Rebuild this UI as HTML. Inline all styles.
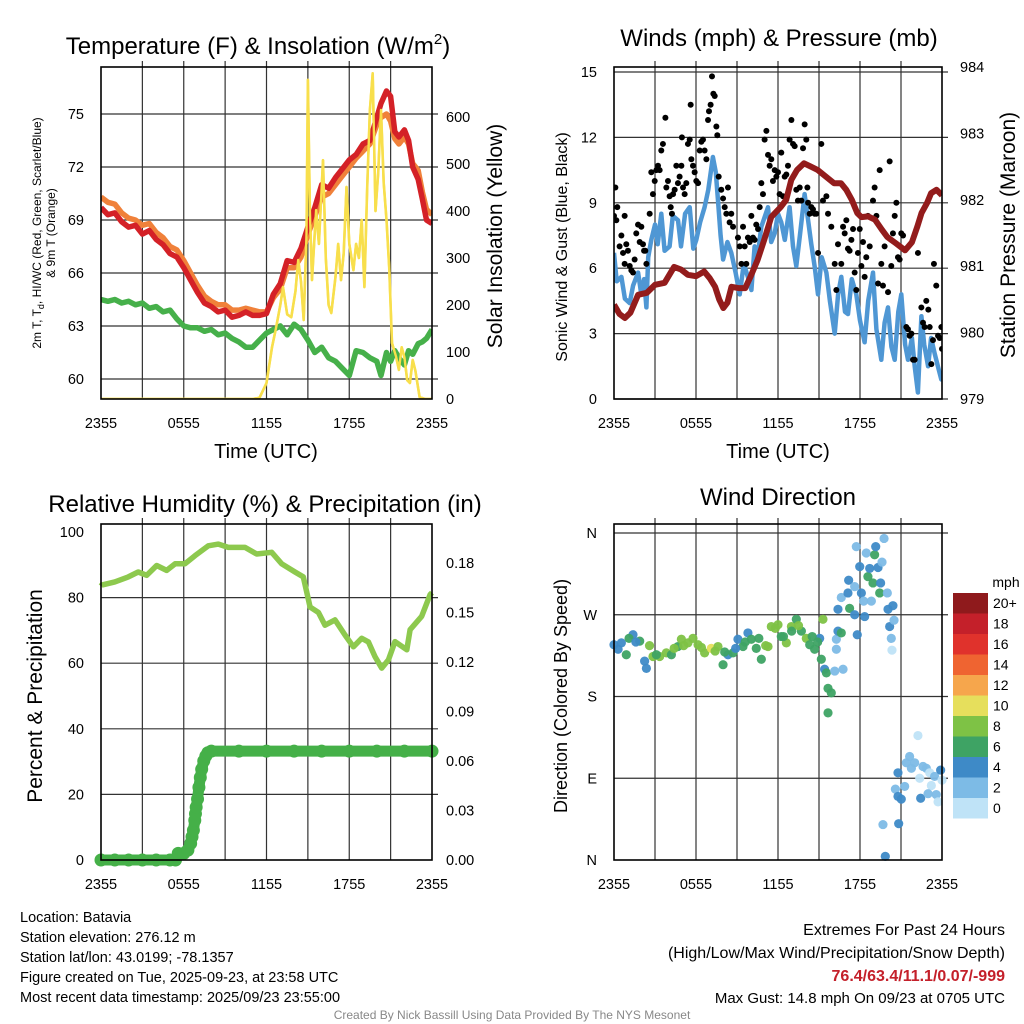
<!DOCTYPE html>
<html><head><meta charset="utf-8"><style>
body{margin:0;background:#fff;}
svg{display:block;font-family:"Liberation Sans",Arial,sans-serif;}
</style></head><body>
<svg id="root" width="1024" height="1024" viewBox="0 0 1024 1024" xmlns="http://www.w3.org/2000/svg"></svg>
<script>
// ---------- DATA ----------
const tempH=[0,0.5,1,1.5,2,2.5,3,3.5,4,4.5,5,5.5,6,6.5,7,7.5,8,8.5,9,9.5,10,10.5,11,11.5,12,12.5,13,13.5,14,14.5,15,15.5,16,16.5,17,17.5,18,18.5,19,19.5,20,20.3,20.7,21,21.3,21.6,22,22.3,22.6,23,23.3,23.6,24];
const tempRed=[69.7,69.3,69.4,68.9,68.6,68.7,68.2,68.4,67.9,67.6,67.1,66.9,66.3,65.6,64.9,64.3,64.1,63.8,63.9,63.5,63.6,63.8,63.6,63.6,63.7,64.8,65.4,66.7,66.6,67.4,68.6,69.7,71.0,70.8,71.4,71.9,72.4,72.7,73.3,73.5,74.8,75.6,76.3,76.0,74.0,73.7,74.1,73.5,72.0,71.3,70.2,69.0,68.8];
const temp9m=[70.3,70.0,69.9,69.4,69.1,69.0,68.7,68.8,68.3,68.0,67.5,67.3,66.7,66.0,65.3,64.7,64.4,64.2,64.2,63.9,63.9,64.0,63.9,63.8,63.8,64.6,65.1,66.3,66.3,66.9,68.2,69.2,70.3,70.5,71.0,71.5,72.0,72.5,72.9,73.3,74.4,74.8,75.0,74.6,73.6,73.3,73.7,73.3,72.2,71.8,70.6,69.6,69.3];
const dewPt=[64.5,64.4,64.5,64.3,64.4,64.2,64.3,64.0,64.1,63.8,63.9,63.4,63.0,62.9,62.9,62.7,62.8,62.5,62.6,62.3,62.1,61.8,61.8,62.2,62.6,62.8,63.0,62.5,63.1,62.8,62.2,61.5,61.8,61.2,61.0,60.6,60.2,61.6,61.5,61.2,61.0,60.2,61.5,61.0,61.6,61.2,60.8,61.6,61.4,62.0,62.1,62.3,62.8];
const solarH=[0,11,11.5,12,12.4,12.7,13,13.2,13.5,13.8,14.1,14.3,14.5,14.7,14.9,15.0,15.15,15.3,15.6,15.8,16.1,16.3,16.5,16.7,17.0,17.2,17.4,17.6,17.8,18.0,18.3,18.5,18.7,18.9,19.1,19.3,19.5,19.7,19.9,20.1,20.3,20.5,20.7,20.9,21.1,21.4,21.6,21.8,22.0,22.2,22.4,22.6,22.8,23.1,23.5,24];
const solarV=[0,0,3,34,110,153,200,238,180,174,230,296,250,168,350,679,400,253,402,330,508,300,200,183,260,330,253,310,451,330,274,330,300,381,238,450,615,693,400,481,615,460,381,280,119,90,62,110,89,40,34,83,60,4,0,0];

const windH=[0,0.2,0.54,0.8,1.15,1.4,1.76,2.0,2.2,2.37,2.5,2.73,3.0,3.2,3.46,3.7,4.07,4.3,4.68,4.9,5.2,5.54,5.8,6.02,6.3,6.63,6.9,7.24,7.45,7.61,7.8,7.98,8.3,8.58,8.9,9.2,9.5,9.8,10.05,10.29,10.5,10.78,11.0,11.27,11.5,11.76,12.0,12.24,12.5,12.85,13.1,13.34,13.6,13.95,14.2,14.44,14.7,14.93,15.2,15.54,15.8,16.15,16.4,16.63,16.9,17.12,17.4,17.73,18.0,18.34,18.6,18.95,19.2,19.56,19.8,20.05,20.3,20.54,20.8,21.02,21.3,21.51,21.8,22.0,22.24,22.49,22.7,22.98,23.2,23.46,23.7,23.95,24];
const windV=[6.7,5.4,5.6,4.6,4.4,5.2,5.8,4.8,5.5,4.2,6.5,7.3,8.0,7.1,8.5,6.8,7.0,8.4,8.2,7.0,8.5,8.8,6.9,7.3,8.1,8.8,9.6,11.1,10.4,9.1,7.5,6.4,7.2,6.7,5.8,4.8,6.2,5.6,5.0,7.0,6.5,7.9,8.3,8.8,7.2,7.6,8.5,8.1,7.3,8.8,7.0,6.1,7.5,9.4,8.2,7.1,6.0,4.8,6.5,5.8,4.5,3.0,4.8,5.6,4.0,3.9,5.5,4.8,3.6,2.6,4.5,5.8,3.2,1.8,3.5,4.2,2.4,1.8,4.0,4.8,2.5,1.8,2.8,1.5,0.3,3.8,2.5,1.5,2.8,2.1,1.5,0.9,1.2];
const gustH=[0,0.1,0.24,0.17,0.41,0.54,0.66,0.78,0.78,0.9,1.02,1.15,1.27,1.39,1.51,1.63,1.76,1.88,2.0,2.12,2.2,2.29,2.37,2.61,2.73,2.85,2.98,3.1,3.22,3.34,3.46,3.58,3.76,3.83,3.95,4.07,4.15,4.24,4.32,4.44,4.56,4.68,4.8,4.93,4.97,5.05,5.17,5.29,5.41,5.54,5.61,5.66,5.78,5.9,6.02,6.15,6.27,6.39,6.51,6.63,6.76,6.88,6.95,7.07,7.17,7.27,7.37,7.49,7.56,7.66,7.85,7.98,8.1,8.22,8.34,8.46,8.58,8.71,9.07,9.2,9.32,9.44,9.56,9.68,9.8,9.93,10.05,10.17,10.29,10.41,10.54,10.66,10.78,10.9,11.02,11.15,11.27,11.39,11.51,11.63,11.76,11.88,12.0,12.12,12.24,12.37,12.49,12.61,12.73,12.85,12.98,13.1,13.22,13.34,13.46,13.59,13.71,13.83,13.95,14.07,14.15,14.2,14.32,14.44,14.56,14.68,14.8,14.93,15.17,15.29,15.54,15.66,15.9,16.15,16.27,16.39,16.63,16.76,16.88,17.0,17.12,17.24,17.37,17.49,17.61,17.73,17.85,17.98,18.1,18.22,18.34,18.46,18.58,18.71,18.95,19.07,19.2,19.32,19.44,19.56,19.68,19.8,20.05,20.17,20.29,20.41,20.54,20.66,20.78,20.9,21.02,21.15,21.39,21.51,21.63,21.76,21.88,22.0,22.24,22.49,22.61,22.73,22.85,23.0,23.1,23.22,23.34,23.41,23.58,23.71,23.83,23.95,24.0];
const gustV=[8.4,9.7,8.8,8.2,7.0,7.5,6.7,8.4,6.2,7.1,6.8,6.1,5.9,5.8,6.4,7.6,8.0,7.2,7.9,7.1,6.8,6.8,6.2,8.5,10.4,9.4,10.0,10.5,10.7,10.5,11.4,11.7,12.9,9.7,10.0,9.3,8.8,8.5,9.4,9.6,10.7,9.9,10.2,10.7,12.0,9.7,9.4,9.9,11.7,11.9,13.5,11.0,10.7,10.4,10.0,9.9,11.4,11.8,11.9,11.4,11.0,12.8,13.2,13.5,14.8,14.0,13.9,12.5,12.1,10.2,9.6,9.2,8.8,8.5,9.7,8.1,8.5,7.9,7.4,7.0,6.2,7.9,7.0,6.2,7.4,7.2,8.4,7.4,7.3,8.0,7.8,8.8,9.9,9.4,11.9,12.3,11.2,10.7,11.0,10.0,10.5,10.2,10.4,9.4,11.3,9.3,10.2,10.3,10.7,11.9,12.8,11.7,11.6,9.6,9.1,9.7,9.1,11.5,12.6,11.9,9.7,9.0,8.5,8.8,8.7,8.5,8.5,6.7,11.7,9.1,9.3,8.5,7.9,6.2,5.0,7.1,6.2,7.9,7.6,8.2,6.9,6.8,7.3,7.8,5.8,5.0,6.7,7.8,6.1,7.2,5.6,6.5,8.4,7.0,9.1,9.7,8.4,5.3,10.5,6.2,5.2,7.0,4.9,10.9,6.1,7.6,8.4,9.0,6.5,6.4,7.6,7.5,3.3,3.2,2.9,3.0,1.8,1.8,6.7,4.2,3.5,3.3,4.5,4.1,3.3,1.6,2.7,6.2,5.2,2.9,2.8,3.3,2.3];
const presH=[0,0.4,0.8,1.2,1.76,2.4,3,3.7,4.4,4.9,5.4,6.0,6.6,7.0,7.4,7.7,8,8.3,8.6,9.1,9.6,10.0,10.5,11.0,11.5,12.2,12.6,12.97,13.4,13.9,14.4,14.9,15.5,16.1,16.6,17.0,17.4,17.8,18.1,18.6,19.1,19.6,20,20.6,21.3,21.8,22.2,22.5,22.9,23.2,23.6,24];
const presV=[980.42,980.28,980.22,980.3,980.57,980.6,980.72,980.75,980.99,980.95,980.87,980.85,980.92,980.82,980.69,980.5,980.37,980.45,980.69,980.67,980.67,980.85,981.09,981.4,981.74,981.89,982.0,982.3,982.45,982.55,982.5,982.45,982.35,982.25,982.25,982.15,982.0,981.8,981.74,981.75,981.7,981.55,981.44,981.35,981.24,981.36,981.6,981.8,981.95,982.1,982.15,982.07];

const rhH=[0,0.05,1.0,1.98,2.7,3.31,4.04,4.76,5.37,6.09,6.82,7.78,8.51,9.23,10.44,11.29,12.38,13.1,14.07,14.67,15.16,15.76,16.24,16.97,17.69,18.3,18.9,19.39,19.87,20.35,20.84,21.32,22.17,22.41,23.25,23.86,24];
const rhV=[83.5,83.8,84.8,86.3,87.8,86.8,89.8,88.3,90.3,90.3,92.8,95.8,96.3,95.3,95.3,93.3,93.8,90.3,87.8,86.3,77.1,75.5,71.6,73.2,68.6,65.0,67.6,66.5,62.0,58.5,61.0,66.6,64.1,70.2,74.3,80.9,81.5];
const precH=[0,1,2,3,4,5,5.4,5.6,6.0,6.3,6.5,6.6,6.7,6.8,6.85,6.9,7.0,7.1,7.2,7.3,7.45,7.6,7.75,8,10,12,14,16,18,20,22,24];
const precV=[0,0,0,0,0,0,0,0.004,0.004,0.006,0.010,0.014,0.018,0.024,0.028,0.032,0.037,0.044,0.050,0.055,0.060,0.063,0.065,0.066,0.066,0.066,0.066,0.066,0.066,0.066,0.066,0.066];

const dirH=[0.0,0.54,0.9,1.39,1.88,2.24,2.37,2.85,3.34,3.83,4.2,4.68,4.93,5.41,5.78,6.15,6.63,7.12,7.61,7.98,8.34,8.71,9.07,9.44,9.8,10.05,10.41,10.78,11.27,11.51,12.0,12.24,12.61,12.98,13.34,13.71,14.07,14.32,14.68,15.05,15.17,15.29,15.41,15.54,15.66,15.9,15.66,16.27,16.39,16.27,16.63,16.15,16.76,16.39,16.63,17.12,17.17,17.24,17.61,17.61,17.8,17.98,17.73,18.1,18.27,18.34,18.46,18.58,18.71,18.95,18.83,19.07,19.15,19.32,19.44,19.51,19.61,19.76,20.0,20.05,20.17,20.29,20.34,20.41,20.49,19.68,19.85,20.78,20.83,20.59,20.78,21.02,21.27,21.39,21.63,21.76,22.0,22.24,22.37,22.44,22.61,22.85,23.1,23.22,23.46,23.58,23.71,23.9,24.0,22.98,0.3,1.1,1.6,2.6,3.1,4.4,5.1,6.4,7.4,8.1,8.9,9.6,10.6,11.1,11.8,12.4,13.0,13.5,14.5,14.9];
const dirV=[237,239,226,248,241,219,211,224,224,228,226,235,243,239,244,237,228,233,235,215,226,228,243,235,250,243,233,221,235,257,259,246,239,257,265,252,244,237,232,244,221,265,210,206,189,184,162,243,252,232,250,208,210,276,289,294,308,277,301,270,248,323,345,294,285,268,338,312,321,305,285,336,345,322,294,305,328,354,294,276,257,244,231,280,264,39,4,96,40,78,70,67,81,107,114,101,107,137,90,68,103,101,96,82,92,72,64,99,88,73,232,244,240,236,226,233,236,234,230,229,233,240,244,236,255,246,252,258,246,240];
const dirS=[4,4,6,4,6,4,4,8,8,8,6,6,8,8,8,8,8,10,8,6,4,6,4,6,4,6,6,6,8,8,8,6,8,8,6,6,8,6,6,4,6,8,4,6,6,6,6,2,4,2,6,2,2,4,2,4,4,6,2,4,4,4,2,4,2,4,2,6,4,6,2,6,4,4,6,4,2,2,2,4,4,2,0,4,2,2,4,4,4,2,4,4,2,2,2,2,2,0,0,4,2,2,0,0,2,2,0,4,0,2,4,6,4,8,6,8,8,8,8,6,4,6,6,8,8,6,6,8,6,6];

const legendLabels=["20+","18","16","14","12","10","8","6","4","2","0"];
const legendColors=["#8f1a1c","#c4202a","#e0322c","#ef6431","#f6a64c","#e6df5c","#7ec245","#3ea364","#3e8ac7","#7dbbe6","#bfe3f7"];
const speedBins=[0,2,4,6,8,10,12,14,16,18,20];
const timeTicks=["2355","0555","1155","1755","2355"];
const tempTicks=[60,63,66,69,72,75];
const solarTicks=[0,100,200,300,400,500,600];
const windTicks=[0,3,6,9,12,15];
const presTicks=[979,980,981,982,983,984];
const rhTicks=[0,20,40,60,80,100];
const precTicks=[0,0.03,0.06,0.09,0.12,0.15,0.18];
const dirTicks=["N","E","S","W","N"];

// ---------- HELPERS ----------
const NS="http://www.w3.org/2000/svg";
const root=document.getElementById('root');
function mk(tag,attrs,parent){const e=document.createElementNS(NS,tag);for(const k in attrs)e.setAttribute(k,attrs[k]);(parent||root).appendChild(e);return e;}
function txt(s,x,y,size,anchor,parent,extra){const e=mk('text',Object.assign({x:x,y:y,'font-size':size,'text-anchor':anchor||'middle',fill:'#000'},extra||{}),parent);e.textContent=s;return e;}
function lin(a0,a1,b0,b1){return v=>b0+(v-a0)*(b1-b0)/(a1-a0);}
function pathD(xs,ys,fx,fy){return xs.map((v,i)=>(i?'L':'M')+fx(v).toFixed(1)+','+fy(ys[i]).toFixed(1)).join('');}

function panelFrame(g,x0,y0,x1,y1,vlines,hlines){
  for(const x of vlines){const l=mk('line',{x1:x,y1:y0-6,x2:x,y2:y1,stroke:'#333','stroke-width':1.2},g);
  
  }
  for(const y of hlines){const l=mk('line',{x1:x0,y1:y,x2:x1+6,y2:y,stroke:'#333','stroke-width':1.2},g);
  
  }
}
function border(g,x0,y0,x1,y1){const r=mk('rect',{x:x0,y:y0,width:x1-x0,height:y1-y0,fill:'none',stroke:'#000','stroke-width':1.6},g);

}
function timeAxis(g,x0,x1,y){const fx=lin(0,24,x0,x1);timeTicks.forEach((t,i)=>{const e=txt(t,fx(i*6),y,14.5,'middle',g);

});}

// ================= PANEL 1 =================
(function(){
const g=mk('g',{});


const X0=101,X1=432,Y0=67,Y1=399;
const fx=lin(0,24,X0,X1), fy=lin(60,75,379,114), fs=lin(0,600,399,117);
const vl=[];for(let h=3;h<24;h+=3)vl.push(fx(h));
panelFrame(g,X0,Y0,X1,Y1,vl,tempTicks.map(fy));
const cp=mk('clipPath',{id:'c1'},g);mk('rect',{x:X0,y:Y0,width:X1-X0,height:Y1-Y0},cp);
const d=mk('g',{'clip-path':'url(#c1)'},g);
const sol=mk('path',{d:pathD(solarH,solarV,fx,fs),fill:'none',stroke:'#f8df4c','stroke-width':2.6,'stroke-linejoin':'round'},d);


const dp=mk('path',{d:pathD(tempH,dewPt,fx,fy),fill:'none',stroke:'#46b04a','stroke-width':5.5,'stroke-linejoin':'round'},d);


const t9=mk('path',{d:pathD(tempH,temp9m,fx,fy),fill:'none',stroke:'#f0813a','stroke-width':5.5,'stroke-linejoin':'round'},d);


const t2=mk('path',{d:pathD(tempH,tempRed,fx,fy),fill:'none',stroke:'#d42127','stroke-width':5.5,'stroke-linejoin':'round'},d);


const sol2=mk('path',{d:pathD(solarH,solarV,fx,fs),fill:'none',stroke:'#f8df4c','stroke-width':2.4,'stroke-linejoin':'round'},d);


border(g,X0,Y0,X1,Y1);
tempTicks.forEach(v=>{const e=txt(String(v),84,fy(v)+5,14.5,'end',g);

});
solarTicks.forEach(v=>{const e=txt(String(v),446,fs(v)+5,14.5,'start',g);

});
timeAxis(g,X0,X1,428);
const t=txt('Temperature (F) & Insolation (W/m',258,54,24,'middle',g);


const ts=mk('tspan',{'font-size':15,dy:-10},t);ts.textContent='2';
const ts2=mk('tspan',{dy:10},t);ts2.textContent=')';
const xl=txt('Time (UTC)',266,458,20,'middle',g);


const yl1=txt('2m T, T',0,0,12,'middle',g,{transform:'translate(41,233) rotate(-90)'});


const sb=mk('tspan',{'font-size':9,dy:3},yl1);sb.textContent='d';
const sb2=mk('tspan',{dy:-3},yl1);sb2.textContent=', HI/WC (Red, Green, Scarlet/Blue)';
const yl2=txt('& 9m T (Orange)',0,0,12,'middle',g,{transform:'translate(55,233) rotate(-90)'});


const yr=txt('Solar Insolation (Yellow)',0,0,21,'middle',g,{transform:'translate(502,236) rotate(-90)'});


})();

// ================= PANEL 2 =================
(function(){
const g=mk('g',{});


const X0=614,X1=942,Y0=67,Y1=399;
const fx=lin(0,24,X0,X1), fy=lin(0,15,399,72), fp=lin(979,984,399,67);
const vl=[];for(let h=3;h<24;h+=3)vl.push(fx(h));
panelFrame(g,X0,Y0,X1,Y1,vl,windTicks.map(fy));
const cp=mk('clipPath',{id:'c2'},g);mk('rect',{x:X0,y:Y0,width:X1-X0,height:Y1-Y0},cp);
const d=mk('g',{'clip-path':'url(#c2)'},g);
const w=mk('path',{d:pathD(windH,windV,fx,fy),fill:'none',stroke:'#4f97d4','stroke-width':4.5,'stroke-linejoin':'round'},d);


gustH.forEach((h,i)=>{const c=mk('circle',{cx:fx(h),cy:fy(gustV[i]),r:3,fill:'#000'},d);

});
const p=mk('path',{d:pathD(presH,presV,fx,fp),fill:'none',stroke:'#931c1c','stroke-width':6,'stroke-linejoin':'round'},d);


border(g,X0,Y0,X1,Y1);
windTicks.forEach(v=>{const e=txt(String(v),597,fy(v)+5,14.5,'end',g);

});
presTicks.forEach(v=>{const e=txt(String(v),960,fp(v)+5,14.5,'start',g);

});
timeAxis(g,X0,X1,428);
const t=txt('Winds (mph) & Pressure (mb)',779,46,24,'middle',g);


const xl=txt('Time (UTC)',778,458,20,'middle',g);


const yl=txt('Sonic Wind & Gust (Blue, Black)',0,0,16,'middle',g,{transform:'translate(567,247) rotate(-90)'});


const yr=txt('Station Pressure (Maroon)',0,0,21,'middle',g,{transform:'translate(1015,235) rotate(-90)'});


})();

// ================= PANEL 3 =================
(function(){
const g=mk('g',{});


const X0=101,X1=432,Y0=524,Y1=860;
const fx=lin(0,24,X0,X1), fy=lin(0,100,860,532), fp=lin(0,0.18,860,563);
const vl=[];for(let h=3;h<24;h+=3)vl.push(fx(h));
panelFrame(g,X0,Y0,X1,Y1,vl,[20,40,60,80].map(fy));
const cp=mk('clipPath',{id:'c3'},g);mk('rect',{x:X0-8,y:Y0,width:X1-X0+16,height:Y1-Y0+8},cp);
const d=mk('g',{'clip-path':'url(#c3)'},g);
const r=mk('path',{d:pathD(rhH,rhV,fx,fy),fill:'none',stroke:'#8dc94e','stroke-width':5.5,'stroke-linejoin':'round'},d);


const pl=mk('path',{d:pathD(precH,precV,fx,fp),fill:'none',stroke:'#45b048','stroke-width':11,'stroke-linecap':'round','stroke-linejoin':'round'},d);


precH.forEach((h,i)=>{const c=mk('circle',{cx:fx(h),cy:fp(precV[i]),r:6.5,fill:'#45b048'},d);

});
border(g,X0,Y0,X1,Y1);
rhTicks.forEach(v=>{const e=txt(String(v),84,fy(v)+5,14.5,'end',g);

});
precTicks.forEach(v=>{const e=txt(v.toFixed(2),446,fp(v)+5,14.5,'start',g);

});
timeAxis(g,X0,X1,889);
const t=txt('Relative Humidity (%) & Precipitation (in)',265,512,24,'middle',g);


const yl=txt('Percent & Precipitation',0,0,21,'middle',g,{transform:'translate(42,696) rotate(-90)'});


})();

// ================= PANEL 4 =================
(function(){
const g=mk('g',{});


const X0=614,X1=942,Y0=524,Y1=860;
const fx=lin(0,24,X0,X1), fy=lin(0,360,860,533);
const vl=[];for(let h=3;h<24;h+=3)vl.push(fx(h));
panelFrame(g,X0,Y0,X1,Y1,vl,[90,180,270,360].map(fy));
function col(s){let k=0;for(let i=0;i<speedBins.length;i++)if(s>=speedBins[i])k=i;return legendColors[legendColors.length-1-k];}
dirH.forEach((h,i)=>{const c=mk('circle',{cx:fx(h),cy:fy(dirV[i]),r:4.6,fill:col(dirS[i]),opacity:0.95},g);

});
border(g,X0,Y0,X1,Y1);
dirTicks.forEach((v,i)=>{const e=txt(v,597,fy(i*90)+5,14.5,'end',g);

});
timeAxis(g,X0,X1,889);
const t=txt('Wind Direction',778,505,24,'middle',g);


const yl=txt('Direction (Colored By Speed)',0,0,18,'middle',g,{transform:'translate(567,696) rotate(-90)'});


const lg=mk('g',{},g);


const m=txt('mph',1006,587,14,'middle',lg);


legendColors.forEach((c,i)=>{const r=mk('rect',{x:953,y:593+i*20.5,width:35,height:20.5,fill:c},lg);


const e=txt(legendLabels[i],993,608+i*20.5,14,'start',lg);

});
})();

// ================= FOOTER =================
(function(){
const g=mk('g',{});


const left=["Location: Batavia","Station elevation: 276.12 m","Station lat/lon: 43.0199; -78.1357","Figure created on Tue, 2025-09-23, at 23:58 UTC","Most recent data timestamp: 2025/09/23 23:55:00"];
left.forEach((s,i)=>{const e=txt(s,20,922+i*20,14.5,'start',g);

});
const a=txt('Extremes For Past 24 Hours',1005,935,16,'end',g);


const b=txt('(High/Low/Max Wind/Precipitation/Snow Depth)',1005,958,16,'end',g);


const c=txt('76.4/63.4/11.1/0.07/-999',1005,981,16,'end',g,{fill:'#c4202a','font-weight':'bold'});


const d=txt('Max Gust: 14.8 mph On 09/23 at 0705 UTC',1005,1003,15,'end',g);


const e=txt('Created By Nick Bassill Using Data Provided By The NYS Mesonet',512,1019,12,'middle',g,{fill:'#888'});


})();
</script>
</body></html>
